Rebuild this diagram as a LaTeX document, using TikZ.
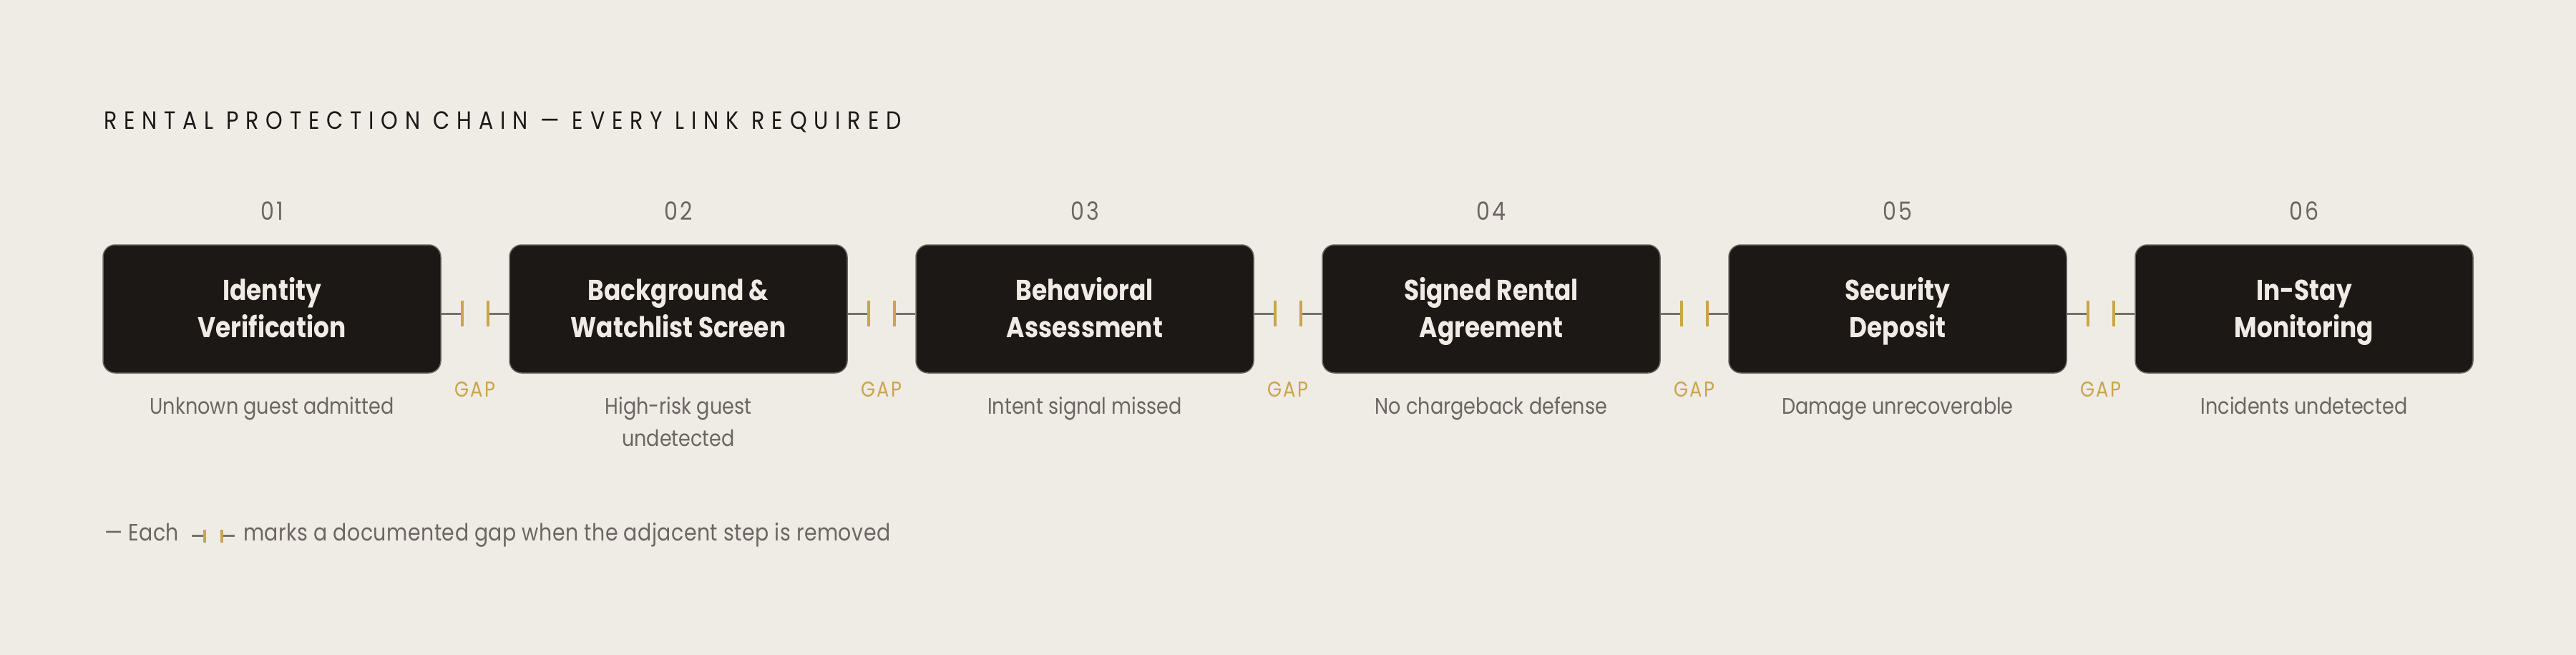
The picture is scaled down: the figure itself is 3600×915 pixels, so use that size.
\documentclass[tikz,border=0pt]{standalone}
\usepackage{fontspec}
\setmainfont{Poppins}[FakeStretch=0.86]
\newfontfamily\titlefont{Poppins}[FakeStretch=0.86,LetterSpace=28]
\newfontfamily\spacedfont{Poppins}[FakeStretch=0.86,LetterSpace=8]
\newfontfamily\footfont{Poppins}[FakeStretch=0.86,LetterSpace=1.5]
\definecolor{bg}{HTML}{EFEBE5}
\definecolor{ink}{HTML}{1C1815}
\definecolor{paper}{HTML}{F0EBE5}
\definecolor{muted}{HTML}{6B6661}
\definecolor{gold}{HTML}{C9A54B}
\definecolor{linkgray}{HTML}{77716B}
\tikzset{
  stepbox/.style={rectangle, rounded corners=17pt, minimum width=472pt, minimum height=179pt,
    fill=ink, draw=muted, line width=1.5pt, inner sep=0pt},
  steptitle/.style={anchor=base, align=center, text=paper, inner sep=0pt,
    font=\bfseries\fontsize{40}{52}\selectfont},
  stepnum/.style={anchor=base, text=muted, inner sep=0pt, font=\spacedfont\fontsize{35}{35}\selectfont},
  failtext/.style={anchor=base, text=muted, inner sep=0pt, align=center, font=\fontsize{31.5}{45}\selectfont},
  gaplabel/.style={anchor=base, text=gold, inner sep=0pt, font=\spacedfont\fontsize{30}{30}\selectfont},
  linkline/.style={draw=linkgray, line width=3pt},
  tick/.style={draw=gold, line width=4.6pt},
}
\begin{document}
\begin{tikzpicture}[x=1pt,y=-1pt]
\fill[bg] (0,0) rectangle (3600,915);
\useasboundingbox (0,0) rectangle (3600,915);

\node[anchor=base west, inner sep=0pt, text=ink, font=\titlefont\fontsize{35}{35}\selectfont]
  (title) at (145,180.5) {RENTAL PROTECTION CHAIN — EVERY LINK REQUIRED};

\foreach \i/\name/\fail/\fy [count=\k from 0] in {
  1/{Identity\\Verification}/{Unknown guest admitted}/578,
  2/{Background \&\\Watchlist Screen}/{High-risk guest\\undetected}/623,
  3/{Behavioral\\Assessment}/{Intent signal missed}/578,
  4/{Signed Rental\\Agreement}/{No chargeback defense}/578,
  5/{Security\\Deposit}/{Damage unrecoverable}/578,
  6/{In-Stay\\Monitoring}/{Incidents undetected}/578} {
  \pgfmathsetmacro{\cx}{380+568*\k}
  \node[stepbox] (b\i) at (\cx,431.5) {};
  \node[steptitle] (t\i) at (\cx,471) {\name};
  \node[stepnum] (n\i) at (\cx,307.5) {0\i};
  \node[failtext] (f\i) at (\cx,\fy) {\fail};
}

\foreach \i [evaluate=\i as \j using int(\i+1), count=\k from 0] in {1,...,5} {
  \pgfmathsetmacro{\gx}{664+568*\k}
  \coordinate (gl\i) at (\gx-18,438);
  \coordinate (gr\i) at (\gx+18,438);
  \draw[linkline] (b\i.east |- gl\i) -- (gl\i);
  \draw[linkline] (gr\i) -- (b\j.west |- gr\i);
  \draw[tick] (\gx-18,420) -- (\gx-18,456);
  \draw[tick] (\gx+18,420) -- (\gx+18,456);
  \node[gaplabel] (g\i) at (\gx,554) {GAP};
}

\node[anchor=base west, inner sep=0pt, text=muted, font=\footfont\fontsize{33}{33}\selectfont]
  (foot1) at (146,755) {— Each};
\coordinate (fa) at (268,748.6);
\coordinate (fb) at (286,748.6);
\coordinate (fc) at (310,748.6);
\coordinate (fd) at (328,748.6);
\draw[linkline] (fa) -- (fb);
\draw[linkline] (fc) -- (fd);
\draw[draw=gold, line width=4pt] (286,740) -- (286,758);
\draw[draw=gold, line width=4pt] (310,740) -- (310,758);
\node[anchor=base west, inner sep=0pt, text=muted, font=\footfont\fontsize{33}{33}\selectfont]
  (foot2) at (340,755) {marks a documented gap when the adjacent step is removed};
\end{tikzpicture}
\end{document}
